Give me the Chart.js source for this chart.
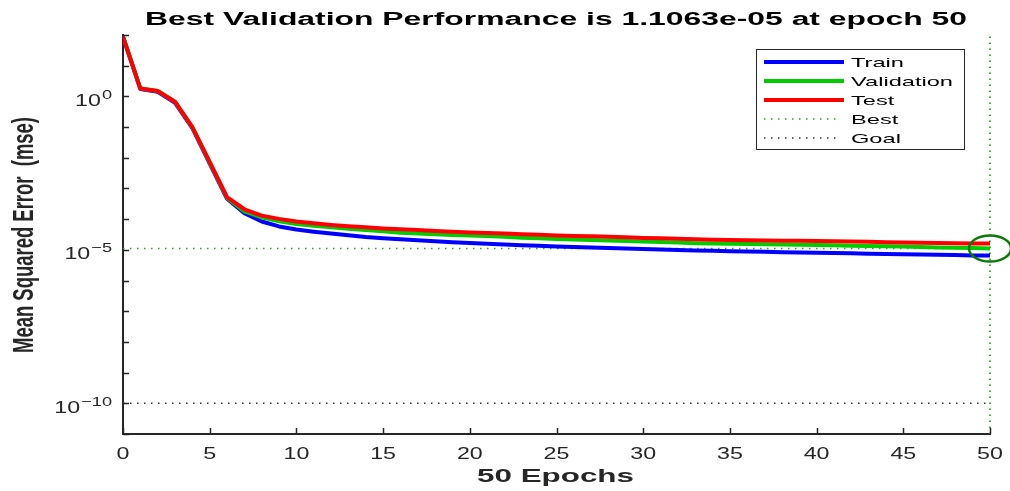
<!DOCTYPE html>
<html>
<head>
<meta charset="utf-8">
<title>Best Validation Performance</title>
<script src="https://cdn.jsdelivr.net/npm/chart.js@4.4.1/dist/chart.umd.min.js"></script>
<style>
  html, body { margin: 0; padding: 0; background: #fff; }
  canvas { display: block; }
</style>
</head>
<body>
<canvas id="perfChart" width="1010" height="491"></canvas>
<script>
// values (one per epoch)
const epochs = [0,1,2,3,4,5,6,7,8,9,10,11,12,13,14,15,16,17,18,19,20,21,22,23,24,25,
  26,27,28,29,30,31,32,33,34,35,36,37,38,39,40,41,42,43,44,45,46,47,48,49,50];

const trainMse = [87, 1.75, 1.4, 0.62, 0.092, 6.5e-3, 4.6e-4, 1.55e-4, 8.4e-5, 5.8e-5,
  4.6e-5, 3.9e-5, 3.4e-5, 3.0e-5, 2.6e-5, 2.4e-5, 2.2e-5, 2.05e-5, 1.9e-5, 1.78e-5,
  1.66e-5, 1.58e-5, 1.5e-5, 1.42e-5, 1.35e-5, 1.28e-5, 1.24e-5, 1.19e-5, 1.15e-5, 1.11e-5,
  1.07e-5, 1.02e-5, 9.8e-6, 9.5e-6, 9.3e-6, 9.0e-6, 8.8e-6, 8.6e-6, 8.4e-6, 8.25e-6,
  8.1e-6, 7.9e-6, 7.7e-6, 7.5e-6, 7.35e-6, 7.2e-6, 7.05e-6, 6.9e-6, 6.75e-6, 6.6e-6, 6.5e-6];

const valMse = [88, 1.8, 1.5, 0.66, 0.098, 6.9e-3, 4.9e-4, 1.8e-4, 1.14e-4, 8.5e-5,
  6.9e-5, 6.1e-5, 5.4e-5, 4.9e-5, 4.4e-5, 4.0e-5, 3.6e-5, 3.4e-5, 3.2e-5, 3.05e-5,
  2.95e-5, 2.8e-5, 2.65e-5, 2.5e-5, 2.38e-5, 2.25e-5, 2.17e-5, 2.1e-5, 2.02e-5, 1.95e-5,
  1.87e-5, 1.8e-5, 1.72e-5, 1.65e-5, 1.62e-5, 1.58e-5, 1.55e-5, 1.52e-5, 1.49e-5, 1.46e-5,
  1.44e-5, 1.4e-5, 1.37e-5, 1.34e-5, 1.31e-5, 1.28e-5, 1.24e-5, 1.2e-5, 1.17e-5, 1.14e-5, 1.1063e-5];

const testMse = [89, 1.8, 1.5, 0.67, 0.10, 7.3e-3, 5.2e-4, 2.1e-4, 1.3e-4, 1.02e-4,
  8.4e-5, 7.3e-5, 6.5e-5, 5.9e-5, 5.4e-5, 5.0e-5, 4.7e-5, 4.4e-5, 4.1e-5, 3.9e-5,
  3.7e-5, 3.55e-5, 3.4e-5, 3.25e-5, 3.1e-5, 2.95e-5, 2.85e-5, 2.75e-5, 2.65e-5, 2.55e-5,
  2.45e-5, 2.37e-5, 2.28e-5, 2.2e-5, 2.15e-5, 2.1e-5, 2.06e-5, 2.02e-5, 1.99e-5, 1.97e-5,
  1.95e-5, 1.9e-5, 1.86e-5, 1.82e-5, 1.78e-5, 1.74e-5, 1.71e-5, 1.68e-5, 1.65e-5, 1.62e-5, 1.6e-5];

const bestEpoch = 50;
const bestPerf = 1.1063e-5;
const goalPerf = 1e-10;

const xTickValues = [0, 5, 10, 15, 20, 25, 30, 35, 40, 45, 50];
const yTickExponents = [2, 1, 0, -1, -2, -3, -4, -5, -6, -7, -8, -9, -10, -11];
const yLabelExponents = [0, -5, -10];

const titleText = 'Best Validation Performance is 1.1063e-05 at epoch 50';
const xTitle = '50 Epochs';
const yTitle = 'Mean Squared Error  (mse)';

const FONT = '"Liberation Sans", Arial, Helvetica, sans-serif';
const AXIS = '#262626';

const pts = ys => epochs.map((e, i) => ({x: e, y: ys[i]}));

// draw text squeezed/stretched horizontally (the source image is wide)
function wideText(ctx, text, x, y, sx, align) {
  const w = ctx.measureText(text).width * sx;
  let x0 = x;
  if (align === 'center') x0 = x - w / 2;
  else if (align === 'right') x0 = x - w;
  ctx.save();
  ctx.translate(x0, y);
  ctx.scale(sx, 1);
  ctx.textAlign = 'left';
  ctx.fillText(text, 0, 0);
  ctx.restore();
  return w;
}

const matlabLook = {
  id: 'matlabLook',
  afterDatasetsDraw(chart) {
    const ctx = chart.ctx;
    const xs = chart.scales.x, ys = chart.scales.y;
    // best point circle
    ctx.save();
    ctx.strokeStyle = '#0a7a0a';
    ctx.lineWidth = 2.5;
    ctx.beginPath();
    ctx.ellipse(xs.getPixelForValue(bestEpoch), ys.getPixelForValue(bestPerf), 21, 13, 0, 0, Math.PI * 2);
    ctx.stroke();
    ctx.restore();
  },
  afterDraw(chart) {
    const ctx = chart.ctx;
    const area = chart.chartArea;
    const xs = chart.scales.x, ys = chart.scales.y;
    ctx.save();

    // inward tick marks
    ctx.strokeStyle = AXIS;
    ctx.lineWidth = 1.5;
    ctx.beginPath();
    yTickExponents.forEach(e => {
      const py = Math.round(ys.getPixelForValue(Math.pow(10, e))) + 0.5;
      ctx.moveTo(area.left, py);
      ctx.lineTo(area.left + 6, py);
    });
    xTickValues.forEach(v => {
      const px = Math.round(xs.getPixelForValue(v)) + 0.5;
      ctx.moveTo(px, area.bottom);
      ctx.lineTo(px, area.bottom - 6);
    });
    ctx.stroke();

    // x tick labels
    ctx.fillStyle = AXIS;
    ctx.textBaseline = 'alphabetic';
    ctx.font = '16px ' + FONT;
    xTickValues.forEach(v => {
      wideText(ctx, String(v), xs.getPixelForValue(v), area.bottom + 25, 1.45, 'center');
    });

    // y tick labels 10^n
    yLabelExponents.forEach(e => {
      const py = ys.getPixelForValue(Math.pow(10, e));
      const sup = e < 0 ? '\u2212' + Math.abs(e) : String(e);
      ctx.font = '13px ' + FONT;
      const supW = ctx.measureText(sup).width * 1.4;
      const right = 112;
      wideText(ctx, sup, right - supW, py + 2.5, 1.4, 'left');
      ctx.font = '16px ' + FONT;
      wideText(ctx, '10', right - supW - 1, py + 9.5, 1.45, 'right');
    });

    // title
    ctx.fillStyle = '#000';
    ctx.font = 'bold 17.5px ' + FONT;
    let sx = 822 / ctx.measureText(titleText).width;
    wideText(ctx, titleText, 145, 25, sx, 'left');

    // x title
    ctx.fillStyle = AXIS;
    ctx.font = 'bold 18px ' + FONT;
    sx = 157 / ctx.measureText(xTitle).width;
    wideText(ctx, xTitle, 477, 481.5, sx, 'left');

    // y title (rotated)
    ctx.font = 'bold 20px ' + FONT;
    const yw = ctx.measureText(yTitle).width;
    ctx.save();
    ctx.translate(33, 235);
    ctx.rotate(-Math.PI / 2);
    ctx.scale(236 / yw, 1.5);
    ctx.textAlign = 'center';
    ctx.fillText(yTitle, 0, 0);
    ctx.restore();

    // legend box
    const lx = 756.5, ly = 49.5, lw = 208, lh = 100;
    ctx.fillStyle = '#fff';
    ctx.fillRect(lx, ly, lw, lh);
    ctx.strokeStyle = AXIS;
    ctx.lineWidth = 1;
    ctx.strokeRect(lx, ly, lw, lh);
    const items = chart.data.datasets.filter(d => !d.legendSkip);
    ctx.font = '13.5px ' + FONT;
    const lsx = 102 / ctx.measureText('Validation').width;
    items.forEach((d, i) => {
      const ry = 62 + i * 19;
      ctx.save();
      ctx.strokeStyle = d.borderColor;
      ctx.lineWidth = d.borderDash ? 1.5 : 4;
      ctx.setLineDash(d.borderDash || []);
      ctx.beginPath();
      ctx.moveTo(764, ry);
      ctx.lineTo(d.borderDash ? 838 : 844, ry);
      ctx.stroke();
      ctx.restore();
      ctx.fillStyle = '#000';
      wideText(ctx, d.label, 851, ry + 5, lsx, 'left');
    });

    ctx.restore();
  }
};

const ctx = document.getElementById('perfChart').getContext('2d');
const perfChart = new Chart(ctx, {
  type: 'line',
  data: {
    datasets: [
      {label: 'Train', data: pts(trainMse), borderColor: '#0000ff', borderWidth: 4, order: 3},
      {label: 'Validation', data: pts(valMse), borderColor: '#00cc00', borderWidth: 4, order: 2},
      {label: 'Test', data: pts(testMse), borderColor: '#ff0000', borderWidth: 4, order: 1},
      {label: 'Best', data: [{x: 0, y: bestPerf}, {x: bestEpoch, y: bestPerf}],
        borderColor: '#2ea02e', borderWidth: 1.5, borderDash: [1.5, 5.5], order: 4},
      {label: 'Best', legendSkip: true, clip: 6, data: [{x: bestEpoch, y: 1e-11}, {x: bestEpoch, y: 1e2}],
        borderColor: '#2ea02e', borderWidth: 1.8, borderDash: [1.5, 4.5], order: 4},
      {label: 'Goal', data: [{x: 0, y: goalPerf}, {x: 50, y: goalPerf}],
        borderColor: '#333333', borderWidth: 1.5, borderDash: [1.5, 5.5], order: 5}
    ]
  },
  options: {
    responsive: false,
    animation: false,
    devicePixelRatio: 1,
    elements: {
      point: {radius: 0, hoverRadius: 0},
      line: {tension: 0, fill: false, borderJoinStyle: 'round', borderCapStyle: 'butt'}
    },
    layout: {padding: {top: 35, right: 20, left: 0, bottom: 0}},
    plugins: {
      legend: {display: false},
      title: {display: false},
      tooltip: {enabled: false}
    },
    scales: {
      x: {
        type: 'linear', min: 0, max: 50,
        grid: {display: true, drawOnChartArea: false, drawTicks: false},
        border: {display: true, color: AXIS, width: 2},
        ticks: {display: false},
        afterFit: s => { s.height = 57; }
      },
      y: {
        type: 'logarithmic', min: 1e-11, max: 1e2,
        grid: {display: true, drawOnChartArea: false, drawTicks: false},
        border: {display: true, color: AXIS, width: 2},
        ticks: {display: false},
        afterFit: s => { s.width = 123; }
      }
    }
  },
  plugins: [matlabLook]
});
</script>
</body>
</html>
